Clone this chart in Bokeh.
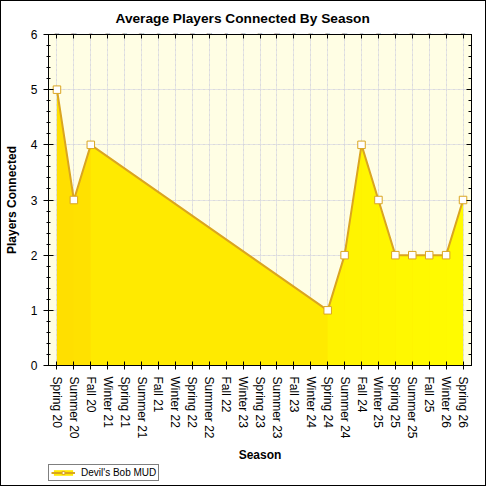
from bokeh.plotting import figure
from bokeh.layouts import column
from bokeh.models import (FactorRange, Range1d, LinearAxis, CategoricalAxis, FixedTicker,
                          ColumnDataSource, Legend, LegendItem, Title, Grid)
from bokeh.embed import file_html
from bokeh.resources import INLINE

# ---- data ----
seasons = ["Spring 20", "Summer 20", "Fall 20", "Winter 21", "Spring 21", "Summer 21",
           "Fall 21", "Winter 22", "Spring 22", "Summer 22", "Fall 22", "Winter 23",
           "Spring 23", "Summer 23", "Fall 23", "Winter 24", "Spring 24", "Summer 24",
           "Fall 24", "Winter 25", "Spring 25", "Summer 25", "Fall 25", "Winter 26",
           "Spring 26"]
point_seasons = ["Spring 20", "Summer 20", "Fall 20", "Spring 24", "Summer 24", "Fall 24",
                 "Winter 25", "Spring 25", "Summer 25", "Fall 25", "Winter 26", "Spring 26"]
players = [5, 3, 4, 1, 2, 4, 3, 2, 2, 2, 2, 3]
y_ticks = [0, 1, 2, 3, 4, 5, 6]
series_name = "Devil's Bob MUD"
title_text = "Average Players Connected By Season"
x_title = "Season"
y_title = "Players Connected"

FONT = "Liberation Sans"
LINE_COL = "#DAA520"
AREA_COL = "#FFEA00"

p = figure(width=484, height=463, x_range=FactorRange(*seasons), y_range=Range1d(0, 6),
           output_backend="svg", toolbar_location=None, x_axis_location=None,
           y_axis_location=None,
           min_border_left=46, min_border_right=14, min_border_top=33, min_border_bottom=94)
p.background_fill_color = "#FFFEE4"
p.border_fill_color = "white"
p.outline_line_color = "black"

p.title = Title(text=title_text, align="left", offset=67, text_font=FONT,
                text_font_size="13.7px", text_font_style="bold", text_color="black")

minor = [i / 5 for i in range(31)]
yt = FixedTicker(ticks=y_ticks, minor_ticks=minor)

# left axis
ly = LinearAxis(ticker=yt, axis_label=y_title)
ly.major_tick_in = 5
ly.major_tick_out = 5
ly.minor_tick_in = 2
ly.minor_tick_out = 2
ly.major_label_standoff = 6
ly.axis_label_standoff = 9
ly.major_label_text_font = FONT
ly.major_label_text_font_size = "12px"
ly.major_label_text_color = "black"
ly.axis_label_text_font = FONT
ly.axis_label_text_font_size = "12px"
ly.axis_label_text_font_style = "bold"
ly.axis_label_text_color = "black"
p.add_layout(ly, "left")

# right axis (ticks only)
ry = LinearAxis(ticker=yt)
ry.major_tick_in = 5
ry.major_tick_out = 0
ry.minor_tick_in = 3
ry.minor_tick_out = 0
ry.major_label_overrides = {t: "" for t in y_ticks}
ry.major_label_text_font_size = "1px"
ry.major_label_standoff = 0
p.add_layout(ry, "right")

# bottom axis
bx = CategoricalAxis(axis_label=x_title)
bx.major_tick_in = 4
bx.major_tick_out = 4
bx.major_label_orientation = "vertical"
bx.major_label_standoff = 7
bx.major_label_text_font = FONT
bx.major_label_text_font_size = "12px"
bx.major_label_text_color = "black"
bx.axis_label_standoff = 6
bx.axis_label_text_font = FONT
bx.axis_label_text_font_size = "12px"
bx.axis_label_text_font_style = "bold"
bx.axis_label_text_color = "black"
p.add_layout(bx, "below")

# top axis (ticks only)
tx = CategoricalAxis()
tx.major_tick_in = 4
tx.major_tick_out = 0
tx.major_label_overrides = {s: "" for s in seasons}
tx.major_label_text_font_size = "1px"
tx.major_label_standoff = 0
p.add_layout(tx, "above")

# grids
xg = Grid(dimension=0, ticker=bx.ticker, grid_line_color="#D0D0D0", grid_line_dash="1 4")
yg = Grid(dimension=1, ticker=FixedTicker(ticks=y_ticks[1:-1]), grid_line_color="#D0D0D0",
          grid_line_dash="1 4")
p.add_layout(xg)
p.add_layout(yg)

# filled area: a base layer, then segments coloured along a diagonal gradient
p.varea(x=point_seasons, y1=[0] * len(players), y2=players, fill_color=AREA_COL)
idx = {s: i for i, s in enumerate(seasons)}
n = len(seasons)
for i in range(len(players) - 1):
    xs = [point_seasons[i], point_seasons[i + 1]]
    ys = [players[i], players[i + 1]]
    tx_f = ((idx[xs[0]] + idx[xs[1]]) / 2 + 0.5) / n
    ty_f = 1 - (sum(ys) / 2 / 2) / 6
    g = int(round(219 + 29 * tx_f + 5 * ty_f))
    g = max(0, min(255, g))
    p.varea(x=xs, y1=[0, 0], y2=ys, fill_color="#FF%02X00" % g)

src = ColumnDataSource(dict(x=point_seasons, y=players))
p.line("x", "y", source=src, line_color=LINE_COL, line_width=2)
p.scatter("x", "y", source=src, marker="square", size=7.5, fill_color="white",
          line_color=LINE_COL, line_width=1)

# legend strip below the chart (its renderers sit outside the visible range)
lg = figure(width=484, height=21, output_backend="svg", toolbar_location=None,
            x_axis_location=None, y_axis_location=None, min_border=0,
            x_range=FactorRange(*seasons), y_range=Range1d(100, 101))
lg.outline_line_color = None
lg.background_fill_color = "white"
lg.border_fill_color = "white"
lg.xgrid.visible = False
lg.ygrid.visible = False
lsrc = ColumnDataSource(dict(x=point_seasons, y=players, y0=[0] * len(players)))
la = lg.varea(x="x", y1="y0", y2="y", source=lsrc, fill_color=AREA_COL)
ll = lg.line("x", "y", source=lsrc, line_color=LINE_COL, line_width=2)
lm = lg.scatter("x", "y", source=lsrc, marker="square", size=7.5, fill_color="white",
                line_color=LINE_COL, line_width=1)
legend = Legend(items=[LegendItem(label=series_name, renderers=[la, ll, lm])],
                location=(0, 4), orientation="horizontal",
                label_text_font=FONT, label_text_font_size="10px", label_text_color="black",
                glyph_width=24, glyph_height=7, label_standoff=6, padding=2, margin=0,
                spacing=0, border_line_color="black", border_line_width=1,
                background_fill_color="white", background_fill_alpha=1,
                label_height=10)
lg.add_layout(legend)

layout = column(p, lg, spacing=0)
layout.styles = {"border": "1px solid black"}

open("out.html", "w").write(file_html(layout, INLINE))
